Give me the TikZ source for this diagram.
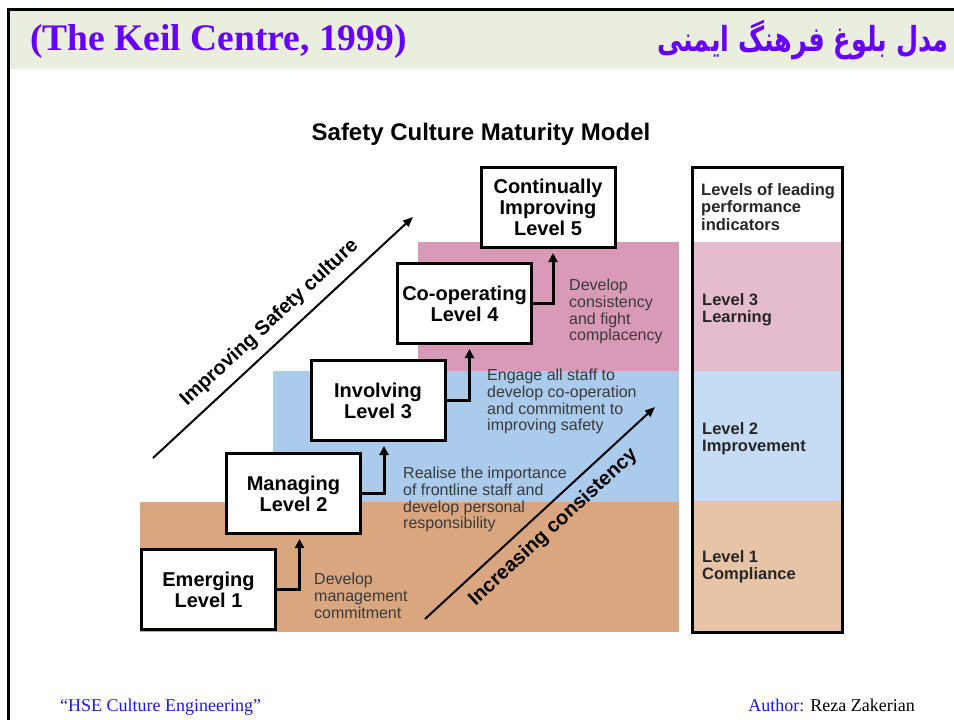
\documentclass[tikz,border=0pt]{standalone}
\usepackage{fontspec}
\setmainfont{Liberation Sans}
\newfontfamily\headserif{Liberation Serif}
\newfontfamily\farsi[Script=Arabic]{DejaVu Sans}
\TeXXeTstate=1
\usetikzlibrary{arrows.meta}
\definecolor{headband}{RGB}{234,238,222}
\definecolor{titleviolet}{RGB}{102,0,255}
\definecolor{footblue}{RGB}{25,25,230}
\definecolor{tanmain}{RGB}{217,166,128}
\definecolor{bluemain}{RGB}{170,203,236}
\definecolor{pinkmain}{RGB}{217,154,183}
\definecolor{tanpale}{RGB}{232,196,166}
\definecolor{bluepale}{RGB}{197,220,244}
\definecolor{pinkpale}{RGB}{229,188,206}
\definecolor{notegray}{RGB}{58,58,58}
\begin{document}
\begin{tikzpicture}[x=1pt,y=-1pt,
 levelbox/.style={draw=black,line width=3pt,fill=white,minimum width=134pt,minimum height=80pt,inner sep=0pt,align=center,font=\bfseries\fontsize{20}{21}\selectfont},
 uparrow/.style={line width=3pt,-{Triangle[length=9pt,width=9pt]},shorten >=4pt},
 note/.style={anchor=north west,inner sep=0pt,align=left,text=notegray,font=\fontsize{16}{16.7}\selectfont},
 indicator/.style={anchor=north west,inner sep=0pt,align=left,text=black!85,font=\bfseries\fontsize{16.5}{17.5}\selectfont},
 trend/.style={line width=2pt,-{Triangle[length=10pt,width=8pt]}},
 trendlabel/.style={sloped,font=\bfseries\fontsize{20}{20}\selectfont}]
\useasboundingbox (0,0) rectangle (954,720);
\fill[white] (0,0) rectangle (954,720);

% slide frame and header
\fill[headband] (9.5,11) rectangle (954,69);
\draw[line width=3pt] (8,720) -- (8,9.5) -- (954,9.5);
\node[anchor=base west,inner sep=0pt,text=titleviolet,font=\headserif\bfseries\fontsize{37.5}{38}\selectfont] (enTitle) at (30,50) {(The Keil Centre, 1999)};
\node[anchor=base east,inner sep=0pt,text=titleviolet,font=\farsi\bfseries\fontsize{25.5}{26}\selectfont] (faTitle) at (949,51) {\scalebox{1}[1.35]{\beginR مدل بلوغ فرهنگ ایمنی\endR}};

% coloured steps
\fill[tanmain] (140,502) rectangle (679,632);
\fill[bluemain] (273,371) rectangle (679,502);
\fill[pinkmain] (418,242) rectangle (679,371);

\node[font=\bfseries\fontsize{24}{24}\selectfont,anchor=base] (mainTitle) at (481,140) {Safety Culture Maturity Model};

% levels
\node[levelbox] (emerging) at (208.5,589.5) {Emerging\\Level 1};
\node[levelbox] (managing) at (293.5,493.5) {Managing\\Level 2};
\node[levelbox] (involving) at (378,400.5) {Involving\\Level 3};
\node[levelbox] (cooperating) at (464.5,303.5) {Co-operating\\Level 4};
\node[levelbox] (improving) at (548,207.5) {Continually\\Improving\\Level 5};

\draw[uparrow] (emerging.east) -| ([xshift=6pt]managing.south);
\draw[uparrow] (managing.east) -| ([xshift=6pt]involving.south);
\draw[uparrow] (involving.east) -| ([xshift=5pt]cooperating.south);
\draw[uparrow] (cooperating.east) -| ([xshift=5pt]improving.south);

\node[note] (noteA) at (314,573) {Develop\\management\\commitment};
\node[note] (noteB) at (403,467) {Realise the importance\\of frontline staff and\\develop personal\\responsibility};
\node[note] (noteC) at (487,369) {Engage all staff to\\develop co-operation\\and commitment to\\improving safety};
\node[note] (noteD) at (569,279) {Develop\\consistency\\and fight\\complacency};

% trend arrows
\coordinate (impA) at (153,458);
\coordinate (impB) at (413,217);
\draw[trend] (impA) -- (impB) node[midway,above=6pt,trendlabel] (impLabel) {Improving Safety culture};
\coordinate (incA) at (425,619);
\coordinate (incB) at (655,407);
\draw[trend] (incA) -- (incB) node[midway,below=6pt,trendlabel] (incLabel) {Increasing consistency};

% indicator column
\fill[pinkpale] (692,242) rectangle (842,371);
\fill[bluepale] (692,371) rectangle (842,501);
\fill[tanpale] (692,501) rectangle (842,632);
\draw[line width=3pt] (692,167) rectangle (842,632);
\node[indicator] (lead) at (701,183) {Levels of leading\\performance\\indicators};
\node[indicator] (learning) at (702,293) {Level 3\\Learning};
\node[indicator] (improvement) at (702,422) {Level 2\\Improvement};
\node[indicator] (compliance) at (702,550) {Level 1\\Compliance};

% footer
\node[anchor=base west,inner sep=0pt,text=footblue,font=\headserif\fontsize{18}{18}\selectfont] (footLeft) at (60,711) {“HSE Culture Engineering”};
\node[anchor=base east,inner sep=0pt,font=\headserif\fontsize{18}{18}\selectfont] (footRight) at (915,711) {\textcolor{footblue}{Author:} Reza Zakerian};
\end{tikzpicture}
\end{document}
